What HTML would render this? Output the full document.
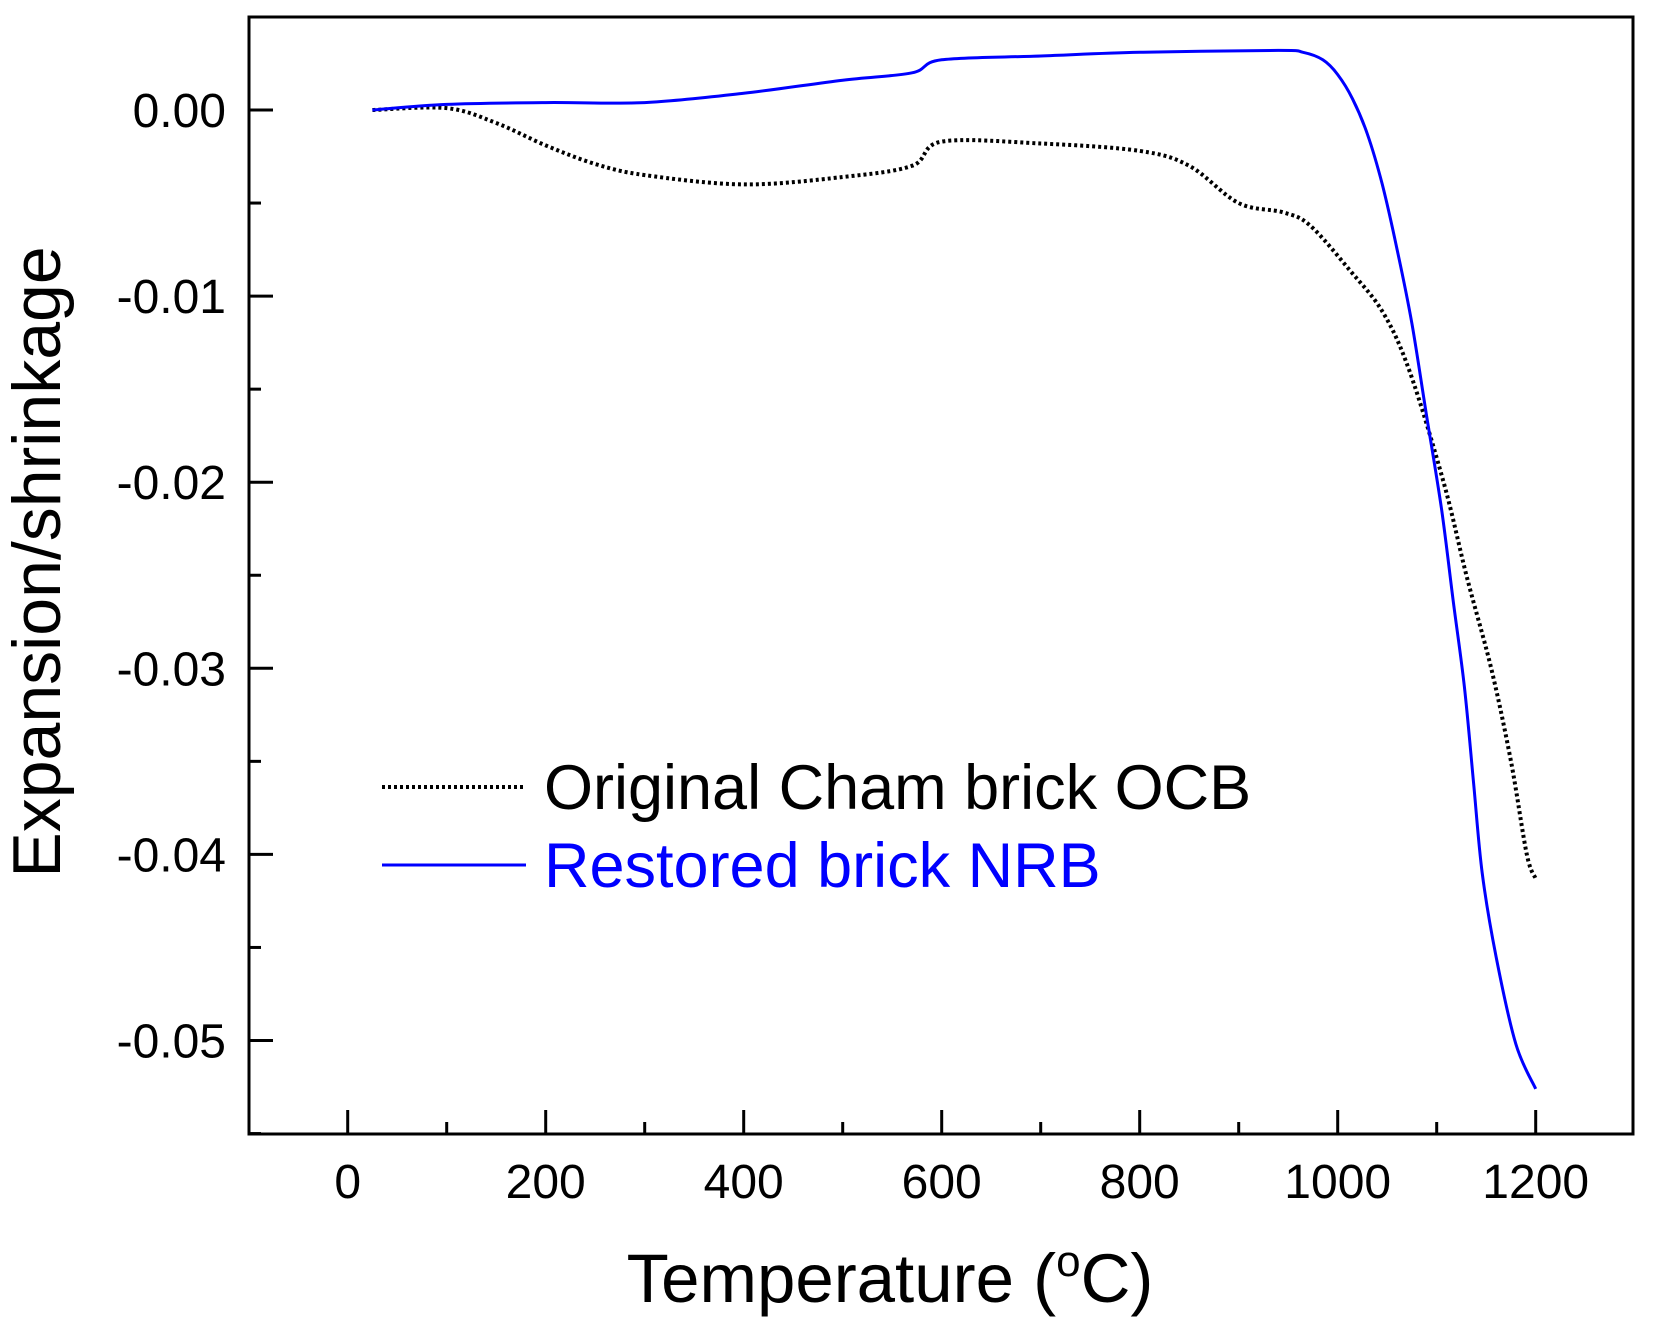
<!DOCTYPE html>
<html><head><meta charset="utf-8"><style>
body{margin:0;background:#fff}
svg{display:block;font-family:"Liberation Sans",Arial,sans-serif}
</style></head><body>
<svg id="chart" width="1657" height="1332" viewBox="0 0 1657 1332">
<rect x="0" y="0" width="1657" height="1332" fill="#fff"/>
<g id="axes"></g>
<g id="series"></g>
<text x="42" y="562" font-size="68" text-anchor="middle" dominant-baseline="middle" transform="rotate(-90 42 562)">Expansion/shrinkage</text>
<text x="890" y="1302" font-size="69" text-anchor="middle">Temperature (<tspan font-size="44" dy="-26">o</tspan><tspan dy="26">C)</tspan></text>
<g>
<line x1="382" y1="787" x2="526" y2="787" stroke="#000" stroke-width="4" stroke-dasharray="3 3"/>
<text x="544" y="809" font-size="63" fill="#000">Original Cham brick OCB</text>
<line x1="382" y1="865" x2="526" y2="865" stroke="#0000ff" stroke-width="3"/>
<text x="544" y="887" font-size="63" fill="#0000ff">Restored brick NRB</text>
</g>
</svg>
<script>
const xTicks = [0,200,400,600,800,1000,1200];
const yTicks = [0,-0.01,-0.02,-0.03,-0.04,-0.05];
const yTickLabels = ["0.00","-0.01","-0.02","-0.03","-0.04","-0.05"];
const ocbT = [25,100,150,200,250,300,400,500,570,600,700,800,850,900,945,972,1012,1046,1073,1107,1130,1155,1175,1191,1200];
const ocbV = [0,0.0001,-0.0007,-0.0019,-0.0029,-0.0035,-0.0040,-0.0036,-0.0030,-0.0017,-0.0018,-0.0022,-0.0030,-0.0050,-0.0055,-0.0062,-0.0086,-0.0109,-0.0141,-0.0200,-0.0250,-0.0300,-0.0350,-0.0400,-0.0413];
const nrbT = [25,100,200,300,400,500,570,600,700,800,940,965,985,1000,1015,1030,1045,1060,1075,1090,1105,1117,1128,1137,1146,1160,1180,1200];
const nrbV = [0,0.0003,0.0004,0.0004,0.0009,0.0016,0.0020,0.0027,0.0029,0.0031,0.0032,0.0031,0.0027,0.0019,0.0006,-0.0013,-0.0040,-0.0075,-0.0115,-0.0165,-0.0215,-0.0265,-0.0310,-0.0360,-0.0410,-0.0455,-0.0502,-0.0526];

const NS="http://www.w3.org/2000/svg";
const L=249,R=1633,T=17,B=1134;
const xs=t=>347.7+t*0.99;
const ys=v=>110-v*18610;
const axes=document.getElementById('axes');
function mk(tag,attrs,parent){const e=document.createElementNS(NS,tag);for(const k in attrs)e.setAttribute(k,attrs[k]);parent.appendChild(e);return e;}

const frame=mk('rect',{x:L,y:T,width:R-L,height:B-T,fill:'none',stroke:'#000','stroke-width':3},axes);



xTicks.forEach((t,i)=>{
  const x=xs(t);
  const tk=mk('line',{x1:x,y1:B,x2:x,y2:B-24,stroke:'#000','stroke-width':3},axes);
  
  
  const m=xs(t+100);
  if(m<R){const mt=mk('line',{x1:m,y1:B,x2:m,y2:B-12,stroke:'#000','stroke-width':3},axes);
  
  }
  const lb=mk('text',{x:x,y:1198,'font-size':48,'text-anchor':'middle'},axes);
  lb.textContent=String(t);
  
  
});
yTicks.forEach((v,i)=>{
  const y=ys(v);
  const tk=mk('line',{x1:L,y1:y,x2:L+24,y2:y,stroke:'#000','stroke-width':3},axes);
  
  
  const m=ys(v-0.005);
  if(m<B){const mt=mk('line',{x1:L,y1:m,x2:L+12,y2:m,stroke:'#000','stroke-width':3},axes);
  
  }
  const lb=mk('text',{x:226,y:y+17,'font-size':48,'text-anchor':'end'},axes);
  lb.textContent=yTickLabels[i];
  
  
});

const series=document.getElementById('series');
function path(ts,vs){
  const p=ts.map((t,i)=>[xs(t),ys(vs[i])]);
  let d='M'+p[0][0].toFixed(1)+','+p[0][1].toFixed(1);
  for(let i=0;i<p.length-1;i++){
    const p0=p[Math.max(0,i-1)],p1=p[i],p2=p[i+1],p3=p[Math.min(p.length-1,i+2)];
    const c1=[p1[0]+(p2[0]-p0[0])/6,p1[1]+(p2[1]-p0[1])/6];
    const c2=[p2[0]-(p3[0]-p1[0])/6,p2[1]-(p3[1]-p1[1])/6];
    d+=' C'+c1[0].toFixed(1)+','+c1[1].toFixed(1)+' '+c2[0].toFixed(1)+','+c2[1].toFixed(1)+' '+p2[0].toFixed(1)+','+p2[1].toFixed(1);
  }
  return d;
}
const p1=mk('path',{d:path(ocbT,ocbV),fill:'none',stroke:'#000','stroke-width':4,'stroke-dasharray':'3 3','stroke-linejoin':'round'},series);


const p2=mk('path',{d:path(nrbT,nrbV),fill:'none',stroke:'#0000ff','stroke-width':3,'stroke-linejoin':'round'},series);


</script>
</body></html>
